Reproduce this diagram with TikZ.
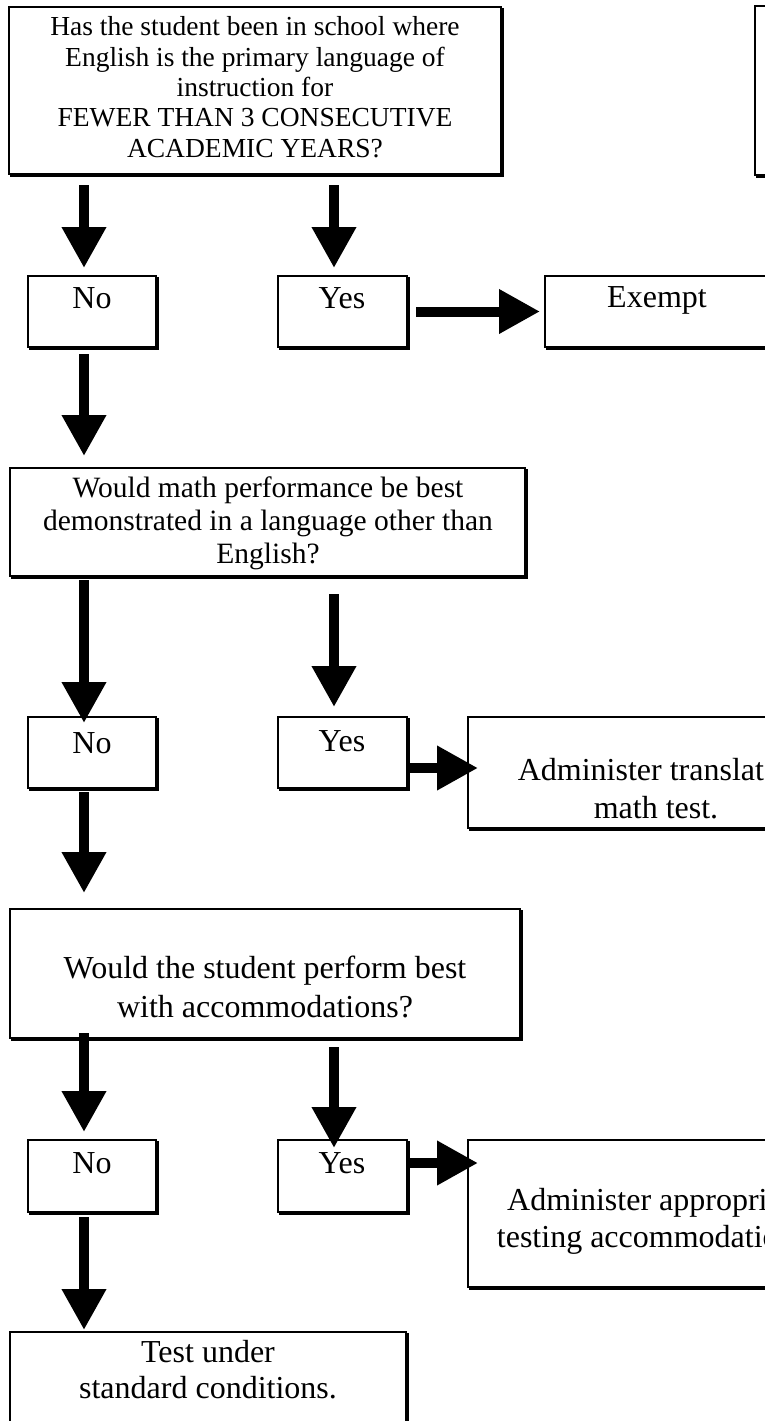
\documentclass[tikz,border=0pt]{standalone}
\usepackage{fontspec}
\setmainfont{Liberation Serif}
\usetikzlibrary{arrows.meta}
\begin{document}
\begin{tikzpicture}[x=1pt,y=-1pt,
  box/.style={draw=black, line width=1.6pt, fill=white, inner sep=0pt, outer sep=0pt,
    anchor=north west,
    preaction={draw=black, fill=black, line width=1.6pt, transform canvas={shift={(2pt,-2pt)}}}},
  txt/.style={align=center, inner sep=0pt, anchor=base},
  fA/.style={font=\fontsize{27.5}{30.3}\selectfont},
  fB/.style={font=\fontsize{29.5}{33}\selectfont},
  fC/.style={font=\fontsize{32}{38}\selectfont},
  bigarrow/.style={line width=10pt, -{Triangle[length=41pt,width=42pt]}}]
\useasboundingbox (0,0) rectangle (765,1421);
\clip (0,0) rectangle (765,1421);
\coordinate (colL) at (84,0);
\coordinate (colR) at (334,0);

% boxes
\node[box, minimum width=492pt, minimum height=167pt] (q1) at (9,7) {};
\node[box, minimum width=492pt, minimum height=169pt] (tr) at (755,6) {};
\node[box, minimum width=128pt, minimum height=71pt] (no1) at (28,276) {};
\node[box, minimum width=129pt, minimum height=71pt] (yes1) at (278,276) {};
\node[box, minimum width=225pt, minimum height=71pt] (ex) at (545,276) {};
\node[box, minimum width=515pt, minimum height=108pt] (q2) at (10,468) {};
\node[box, minimum width=128pt, minimum height=71pt] (no2) at (28,717) {};
\node[box, minimum width=129pt, minimum height=71pt] (yes2) at (278,717) {};
\node[box, minimum width=376pt, minimum height=111pt] (ad1) at (468,717) {};
\node[box, minimum width=510pt, minimum height=129pt] (q3) at (10,909) {};
\node[box, minimum width=128pt, minimum height=72pt] (no3) at (28,1140) {};
\node[box, minimum width=129pt, minimum height=72pt] (yes3) at (278,1140) {};
\node[box, minimum width=376pt, minimum height=147pt] (ad2) at (468,1140) {};
\node[box, minimum width=396pt, minimum height=120pt] (test) at (10,1332) {};

% texts (anchor = baseline of the last line)
\node[txt, fA] (q1t) at (255,157) {Has the student been in school where\\English is the primary language of\\instruction for\\FEWER THAN 3 CONSECUTIVE\\ACADEMIC YEARS?};
\node[txt, fC] (no1t) at (92,308) {No};
\node[txt, fC] (yes1t) at (342,308) {Yes};
\node[txt, fC] (ext) at (657,307) {Exempt};
\node[txt, fB] (q2t) at (268,563) {Would math performance be best\\demonstrated in a language other than\\English?};
\node[txt, fC] (no2t) at (92,753) {No};
\node[txt, fC] (yes2t) at (342,751) {Yes};
\node[txt, fC] (ad1t) at (656,818) {Administer translated\\math test.};
\node[txt, fC, font=\fontsize{32}{39}\selectfont] (q3t) at (265,1017) {Would the student perform best\\with accommodations?};
\node[txt, fC] (no3t) at (92,1173) {No};
\node[txt, fC] (yes3t) at (342,1173) {Yes};
\node[txt, fC, font=\fontsize{32}{37}\selectfont] (ad2t) at (656,1247) {Administer appropriate\\testing accommodations.};
\node[txt, fC, font=\fontsize{32}{36}\selectfont] (testt) at (208,1398) {Test under\\standard conditions.};

% arrows
\draw[bigarrow, shorten <=11pt, shorten >=8pt] (q1.south -| colL) -- (no1.north -| colL);
\draw[bigarrow, shorten <=11pt, shorten >=8pt] (q1.south -| colR) -- (yes1.north -| colR);
\draw[bigarrow, shorten <=9pt, shorten >=5pt] (yes1.east) -- (ex.west);
\draw[bigarrow, shorten <=7pt, shorten >=12pt] (no1.south -| colL) -- (q2.north -| colL);
\draw[bigarrow, shorten <=4pt, shorten >=-6pt] (q2.south -| colL) -- (no2.north -| colL);
\draw[bigarrow, shorten <=18pt, shorten >=10pt] (q2.south -| colR) -- (yes2.north -| colR);
\draw[bigarrow, shorten <=1pt, shorten >=-10pt] ([yshift=-15.5pt]yes2.east) -- ([yshift=4.5pt]ad1.west);
\draw[bigarrow, shorten <=4pt, shorten >=16pt] (no2.south -| colL) -- (q3.north -| colL);
\draw[bigarrow, shorten <=-5pt, shorten >=8pt] (q3.south -| colL) -- (no3.north -| colL);
\draw[bigarrow, shorten <=9pt, shorten >=-8pt] (q3.south -| colR) -- (yes3.north -| colR);
\draw[bigarrow, shorten <=1pt, shorten >=-10pt] ([yshift=13pt]yes3.east) -- ([yshift=50.5pt]ad2.west);
\draw[bigarrow, shorten <=5pt, shorten >=2pt] (no3.south -| colL) -- (test.north -| colL);
\end{tikzpicture}
\end{document}
